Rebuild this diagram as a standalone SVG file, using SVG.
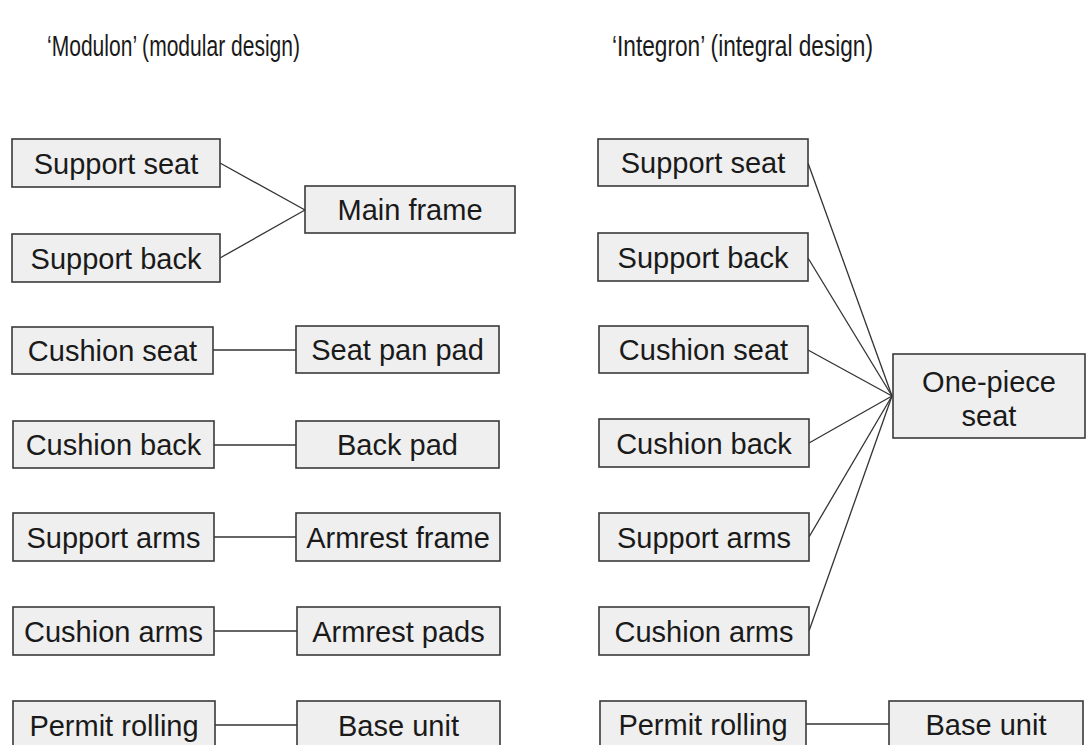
<svg xmlns="http://www.w3.org/2000/svg" width="1091" height="745" viewBox="0 0 1091 745">
<style>
.box{fill:#efefef;stroke:#3a3a3a;stroke-width:1.6}
.t{font-family:"Liberation Sans",Arial,sans-serif;font-size:29px;fill:#1a1a1a;text-anchor:middle}
.title{font-family:"Liberation Sans",Arial,sans-serif;font-size:30px;fill:#1a1a1a}
.c line{stroke:#333;stroke-width:1.3}
</style>
<rect width="1091" height="745" fill="#fff"/>
<text class="title" x="47" y="56" textLength="253" lengthAdjust="spacingAndGlyphs">‘Modulon’ (modular design)</text>
<text class="title" x="612" y="56" textLength="261" lengthAdjust="spacingAndGlyphs">‘Integron’ (integral design)</text>
<g class="c" id="connectors">
<line x1="220" y1="163" x2="305" y2="210"/>
<line x1="220" y1="258" x2="305" y2="210"/>
<line x1="213" y1="350" x2="296" y2="350"/>
<line x1="214" y1="445" x2="296" y2="445"/>
<line x1="214" y1="537" x2="296" y2="537"/>
<line x1="214" y1="631" x2="297" y2="631"/>
<line x1="215" y1="725" x2="297" y2="725"/>
<line x1="808" y1="163" x2="892" y2="396"/>
<line x1="808" y1="258" x2="892" y2="396"/>
<line x1="808" y1="350" x2="892" y2="396"/>
<line x1="809" y1="443" x2="892" y2="396"/>
<line x1="809" y1="537" x2="892" y2="396"/>
<line x1="809" y1="631" x2="892" y2="396"/>
<line x1="806" y1="724" x2="889" y2="724"/>
</g>
<g id="l-support-seat"><rect class="box" x="12" y="139" width="208" height="48"/><text class="t" x="116" y="174">Support seat</text></g>
<g id="l-support-back"><rect class="box" x="12" y="234" width="208" height="48"/><text class="t" x="116" y="269">Support back</text></g>
<g id="l-cushion-seat"><rect class="box" x="12" y="327" width="201" height="47"/><text class="t" x="112.5" y="361">Cushion seat</text></g>
<g id="l-cushion-back"><rect class="box" x="13" y="421" width="201" height="47"/><text class="t" x="113.5" y="455">Cushion back</text></g>
<g id="l-support-arms"><rect class="box" x="13" y="513" width="201" height="48"/><text class="t" x="113.5" y="548">Support arms</text></g>
<g id="l-cushion-arms"><rect class="box" x="13" y="607" width="201" height="48"/><text class="t" x="113.5" y="642">Cushion arms</text></g>
<g id="l-permit-rolling"><rect class="box" x="13" y="701" width="202" height="60"/><text class="t" x="114" y="736">Permit rolling</text></g>
<g id="main-frame"><rect class="box" x="305" y="186" width="210" height="47"/><text class="t" x="410" y="220">Main frame</text></g>
<g id="seat-pan-pad"><rect class="box" x="296" y="326" width="203" height="47"/><text class="t" x="397.5" y="360">Seat pan pad</text></g>
<g id="back-pad"><rect class="box" x="296" y="421" width="203" height="47"/><text class="t" x="397.5" y="455">Back pad</text></g>
<g id="armrest-frame"><rect class="box" x="296" y="513" width="204" height="48"/><text class="t" x="398" y="548">Armrest frame</text></g>
<g id="armrest-pads"><rect class="box" x="297" y="607" width="203" height="48"/><text class="t" x="398.5" y="642">Armrest pads</text></g>
<g id="l-base-unit"><rect class="box" x="297" y="701" width="203" height="60"/><text class="t" x="398.5" y="736">Base unit</text></g>
<g id="r-support-seat"><rect class="box" x="598" y="139" width="210" height="47"/><text class="t" x="703" y="173">Support seat</text></g>
<g id="r-support-back"><rect class="box" x="598" y="233" width="210" height="48"/><text class="t" x="703" y="268">Support back</text></g>
<g id="r-cushion-seat"><rect class="box" x="599" y="326" width="209" height="47"/><text class="t" x="703.5" y="360">Cushion seat</text></g>
<g id="r-cushion-back"><rect class="box" x="599" y="419" width="210" height="48"/><text class="t" x="704" y="454">Cushion back</text></g>
<g id="r-support-arms"><rect class="box" x="599" y="513" width="210" height="48"/><text class="t" x="704" y="548">Support arms</text></g>
<g id="r-cushion-arms"><rect class="box" x="599" y="607" width="210" height="48"/><text class="t" x="704" y="642">Cushion arms</text></g>
<g id="r-permit-rolling"><rect class="box" x="600" y="701" width="206" height="60"/><text class="t" x="703" y="735">Permit rolling</text></g>
<g id="one-piece-seat"><rect class="box" x="893" y="354" width="192" height="84"/><text class="t" x="989" y="392">One-piece</text><text class="t" x="989" y="426">seat</text></g>
<g id="r-base-unit"><rect class="box" x="889" y="701" width="194" height="60"/><text class="t" x="986" y="735">Base unit</text></g>
</svg>
